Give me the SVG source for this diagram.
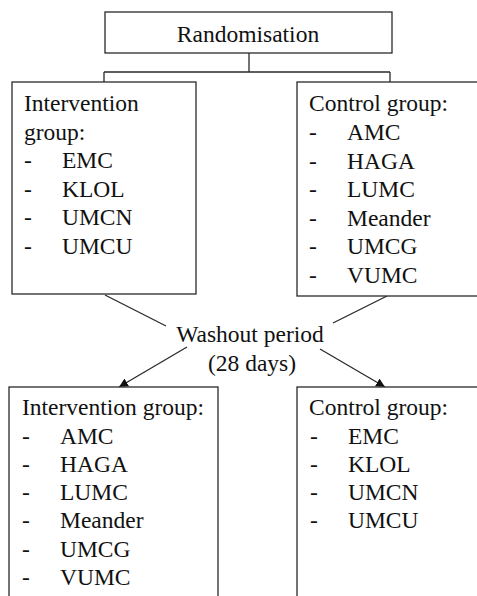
<svg xmlns="http://www.w3.org/2000/svg" width="477" height="596" viewBox="0 0 477 596">
<style>
  .box { fill: #ffffff; stroke: #2a2a2a; stroke-width: 1.3; }
  .t { font-family: 'Liberation Serif', 'DejaVu Serif', 'Noto Serif', serif; font-size: 23.5px; fill: #111111; }
  .c { text-anchor: middle; }
  .ln { stroke: #2a2a2a; stroke-width: 1.3; fill: none; }
</style>
<defs>
  <marker id="ah" viewBox="0 0 10 10" refX="10" refY="5" markerWidth="9" markerHeight="9" markerUnits="userSpaceOnUse" orient="auto">
    <path d="M0,0 L10,5 L0,10 z" fill="#111111"/>
  </marker>
</defs>
<rect width="477" height="596" fill="#ffffff"/>
<g id="connectors">
  <path class="ln" d="M249 53 V72 M104 72 H390 M104 72 V82 M390 72 V82"/>
  <line class="ln" x1="105" y1="295" x2="166" y2="326"/>
  <line class="ln" x1="387" y1="296" x2="333" y2="323"/>
  <line class="ln" x1="187" y1="347" x2="119" y2="387" marker-end="url(#ah)"/>
  <line class="ln" x1="320" y1="349" x2="385" y2="387" marker-end="url(#ah)"/>
</g>
<g id="randomisation">
  <rect class="box" x="105" y="12" width="287" height="41"/>
  <text class="t c" x="248" y="42" font-family="Liberation Serif, serif">Randomisation</text>
</g>
<g id="intervention1" font-family="Liberation Serif, serif">
  <rect class="box" x="12" y="82" width="184" height="212"/>
  <text class="t" x="24" y="111">Intervention</text>
  <text class="t" x="24" y="139.5">group:</text>
  <text class="t" x="24" y="168">-</text><text class="t" x="62" y="168">EMC</text>
  <text class="t" x="24" y="196.5">-</text><text class="t" x="62" y="196.5">KLOL</text>
  <text class="t" x="24" y="225">-</text><text class="t" x="62" y="225">UMCN</text>
  <text class="t" x="24" y="253.5">-</text><text class="t" x="62" y="253.5">UMCU</text>
</g>
<g id="control1">
  <rect class="box" x="297" y="82" width="200" height="214"/>
  <text class="t" x="309" y="111">Control group:</text>
  <text class="t" x="309" y="140">-</text><text class="t" x="347" y="140">AMC</text>
  <text class="t" x="309" y="168.5">-</text><text class="t" x="347" y="168.5">HAGA</text>
  <text class="t" x="309" y="197">-</text><text class="t" x="347" y="197">LUMC</text>
  <text class="t" x="309" y="225.5">-</text><text class="t" x="347" y="225.5">Meander</text>
  <text class="t" x="309" y="254">-</text><text class="t" x="347" y="254">UMCG</text>
  <text class="t" x="309" y="282.5">-</text><text class="t" x="347" y="282.5">VUMC</text>
</g>
<g id="washout">
  <text class="t c" x="250" y="342">Washout period</text>
  <text class="t c" x="252" y="371">(28 days)</text>
</g>
<g id="intervention2">
  <rect class="box" x="9" y="387" width="209" height="230"/>
  <text class="t" x="22" y="415">Intervention group:</text>
  <text class="t" x="22" y="444">-</text><text class="t" x="60" y="444">AMC</text>
  <text class="t" x="22" y="472">-</text><text class="t" x="60" y="472">HAGA</text>
  <text class="t" x="22" y="500">-</text><text class="t" x="60" y="500">LUMC</text>
  <text class="t" x="22" y="528">-</text><text class="t" x="60" y="528">Meander</text>
  <text class="t" x="22" y="557">-</text><text class="t" x="60" y="557">UMCG</text>
  <text class="t" x="22" y="585">-</text><text class="t" x="60" y="585">VUMC</text>
</g>
<g id="control2">
  <rect class="box" x="297" y="387" width="200" height="230"/>
  <text class="t" x="309" y="415">Control group:</text>
  <text class="t" x="310" y="444">-</text><text class="t" x="348" y="444">EMC</text>
  <text class="t" x="310" y="472">-</text><text class="t" x="348" y="472">KLOL</text>
  <text class="t" x="310" y="500">-</text><text class="t" x="348" y="500">UMCN</text>
  <text class="t" x="310" y="528">-</text><text class="t" x="348" y="528">UMCU</text>
</g>
</svg>
